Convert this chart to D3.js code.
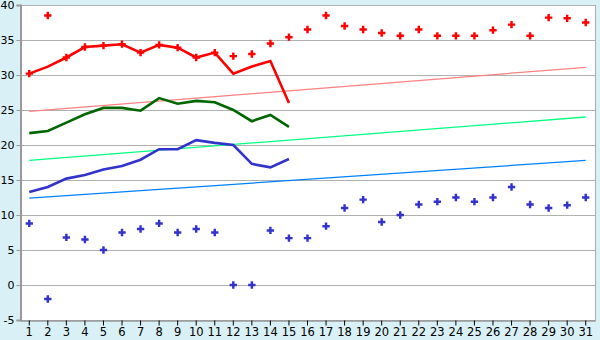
<!DOCTYPE html>
<html><head><meta charset="utf-8">
<script src="https://cdn.jsdelivr.net/npm/d3@7"></script>
<style>body{margin:0;background:#d9f0f6;}svg{display:block;}</style>
</head><body>
<script>
const days = d3.range(1, 32);
const yTicks = [-5, 0, 5, 10, 15, 20, 25, 30, 35, 40];
// daily lines (days 1-15)
const maxLine = [30.2, 31.2, 32.5, 34.0, 34.2, 34.4, 33.2, 34.3, 33.9, 32.5, 33.2, 30.2, 31.2, 32.0, 26.0];
const avgLine = [21.7, 22.0, 23.2, 24.4, 25.3, 25.3, 24.9, 26.7, 25.9, 26.3, 26.1, 25.0, 23.4, 24.3, 22.6];
const minLine = [13.3, 14.0, 15.2, 15.7, 16.5, 17.0, 17.9, 19.4, 19.4, 20.7, 20.3, 20.0, 17.3, 16.8, 18.0];
// record points (days 1-31)
const maxRecord = [30.2, 38.5, 32.5, 34.0, 34.2, 34.4, 33.2, 34.3, 33.9, 32.5, 33.2, 32.7, 33.0, 34.5, 35.4, 36.5, 38.5, 37.0, 36.5, 36.0, 35.6, 36.5, 35.6, 35.6, 35.6, 36.4, 37.2, 35.6, 38.2, 38.1, 37.5];
const minRecord = [8.8, -2.0, 6.8, 6.5, 5.0, 7.5, 8.0, 8.8, 7.5, 8.0, 7.5, 0.0, 0.0, 7.8, 6.7, 6.7, 8.4, 11.0, 12.2, 9.0, 10.0, 11.5, 11.9, 12.5, 11.9, 12.5, 14.0, 11.5, 11.0, 11.4, 12.5];
// normal trend lines (day 1 and day 31)
const trendDays = [1, 31];
const maxNormal = [24.8, 31.1];
const avgNormal = [17.8, 24.0];
const minNormal = [12.4, 17.8];

const W = 600, H = 340;
const m = {left: 20, right: 5, top: 5, bottom: 20};
const svg = d3.select("body").append("svg").attr("width", W).attr("height", H);
svg.append("rect").attr("width", W).attr("height", H).attr("fill", "#d9f0f6");

const x = d3.scaleBand().domain(days).range([m.left, W - m.right]);
const cx = d => x(d) + x.bandwidth() / 2;
const y = d3.scaleLinear().domain([-5, 40]).range([H - m.bottom, m.top]);

svg.append("rect").attr("x", m.left).attr("y", m.top)
  .attr("width", W - m.right - m.left).attr("height", H - m.bottom - m.top)
  .attr("fill", "#fff").attr("stroke", "#aaa").attr("stroke-width", 1)
  .attr("shape-rendering", "crispEdges");

// gridlines
svg.append("g").selectAll("line").data(yTicks).join("line")
  .attr("x1", m.left).attr("x2", W - m.right)
  .attr("y1", d => Math.round(y(d)) + 0.5).attr("y2", d => Math.round(y(d)) + 0.5)
  .attr("stroke", "#b0b0b0").attr("stroke-width", 1.2);

// y axis
const yAxis = svg.append("g").attr("transform", `translate(${m.left + 0.5},0)`)
  .call(d3.axisLeft(y).tickValues(yTicks).tickSize(4).tickPadding(2).tickFormat(d => d));
yAxis.selectAll("text").attr("font-family", "DejaVu Sans").attr("font-size", 11).attr("fill", "#000");
yAxis.selectAll("line,path").attr("stroke", "#999");
yAxis.select(".domain").attr("stroke", "#999").attr("stroke-width", 2);

// x axis
const xAxis = svg.append("g").attr("transform", `translate(0,${H - m.bottom + 0.5})`)
  .call(d3.axisBottom(x).tickSize(5).tickPadding(2).tickSizeOuter(0));
xAxis.selectAll("text").attr("font-family", "DejaVu Sans").attr("font-size", 11.5).attr("fill", "#000");
xAxis.selectAll("line").attr("stroke", "#000");
xAxis.select(".domain").attr("stroke", "#999").attr("stroke-width", 1.5);

// trend lines
const tline = d3.line().x((v, i) => cx(trendDays[i])).y(v => y(v));
[[maxNormal, "#ff8080"], [avgNormal, "#00ff80"], [minNormal, "#0080ff"]].forEach(([arr, c]) => {
  svg.append("path").attr("d", tline(arr)).attr("fill", "none").attr("stroke", c).attr("stroke-width", 1.3);
});

// daily lines
const line = d3.line().x((v, i) => cx(days[i])).y(v => y(v));
[[minLine, "#3333cc"], [avgLine, "#006600"], [maxLine, "#ff0000"]].forEach(([arr, c]) => {
  svg.append("path").attr("d", line(arr)).attr("fill", "none").attr("stroke", c).attr("stroke-width", 2.6);
});

// record points
const sym = d3.symbol().type(d3.symbolCross).size(30);
[[maxRecord, "#ff0000"], [minRecord, "#3333cc"]].forEach(([arr, c]) => {
  svg.append("g").selectAll("path").data(arr).join("path")
    .attr("transform", (v, i) => `translate(${cx(days[i])},${y(v)})`)
    .attr("d", sym).attr("fill", c);
});
</script>
</body></html>
